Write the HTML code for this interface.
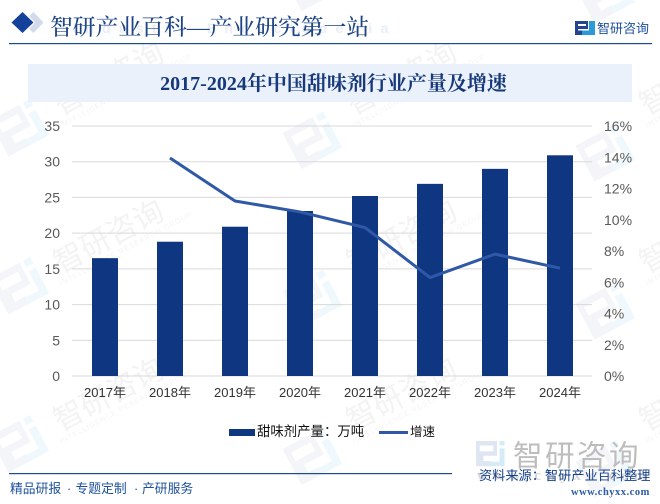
<!DOCTYPE html>
<html lang="zh">
<head>
<meta charset="utf-8">
<title>2017-2024年中国甜味剂行业产量及增速</title>
<style>
html,body{margin:0;padding:0;background:#fff;}
#page{position:relative;width:660px;height:504px;overflow:hidden;background:#fff;}
svg{position:absolute;left:0;top:0;display:block;}
text{font-family:"Liberation Sans","Noto Sans CJK SC",sans-serif;}
.serif{font-family:"Liberation Serif","Noto Serif CJK SC",serif;}
</style>
</head>
<body>
<div id="page">
<svg id="chart" width="660" height="504" viewBox="0 0 660 504" xmlns="http://www.w3.org/2000/svg">
  <defs>
    <g id="wm-logo">
      <path d="M0 0H34V20H12V27H24V34H0Z M6 6V14H28V6Z" fill="#dfe6f1" fill-rule="evenodd"/>
      <path d="M38 0H46V6H38Z" fill="#d3ecf7"/>
      <path d="M38 10H46V34H22V28H38Z" fill="#d3ecf7"/>
    </g>
  </defs>
  <g id="watermarks"></g>

  <text x="73" y="33" font-size="14" font-weight="700" fill="#e9edf5" letter-spacing="8.300">Industry Encyclopedia</text>
  <path d="M22.500 12L33.500 22.500L22.500 33L11.500 22.500Z" fill="#14429a"/>
  <path d="M33.500 12L43.500 22.500L33.500 33L29 29L35 22.500L29 16Z" fill="#d3dbeb"/>
  <text class="serif" x="50" y="35" font-size="22.800" font-weight="500" fill="#1d4485">智研产业百科—产业研究第一站</text>
  <rect x="9" y="43" width="643" height="1.200" fill="#1a4a8f"/>
  <g>
    <rect x="575" y="21" width="13" height="8" fill="#24458f"/>
    <rect x="575" y="29" width="7" height="6" fill="#24458f"/>
    <rect x="582" y="29" width="13" height="6" fill="#2a9ad8"/>
    <rect x="589" y="21" width="6" height="14" fill="#2a9ad8"/>
    <rect x="578" y="24" width="8" height="2" fill="#fff"/>
    <rect x="578" y="29" width="11" height="1.500" fill="#fff"/>
  </g>
  <text x="597" y="33" font-size="13" fill="#1d4f9c">智研咨询</text>

  <rect x="28" y="64" width="604" height="38" fill="#eaf1fb"/>
  <text class="serif" x="333.500" y="90" font-size="20" font-weight="700" fill="#17397a" text-anchor="middle">2017-2024年中国甜味剂行业产量及增速</text>

  <g id="grid"></g>
  <g id="bars"></g>
  <g id="line"></g>
  <g id="axis-left"></g>
  <g id="axis-right"></g>
  <g id="axis-x"></g>

  <g>
    <rect x="229" y="429" width="26" height="7" fill="#0f3681"/>
    <text x="257" y="436" font-size="13.400" fill="#111">甜味剂产量：万吨</text>
    <rect x="379" y="431" width="29" height="3" fill="#2f58a6"/>
    <text x="410" y="436" font-size="12.500" fill="#111">增速</text>
  </g>

  <g>
    <g transform="translate(476,441) scale(.62,.74)"><use href="#wm-logo"/></g>
    <text x="513" y="466" font-size="29.500" fill="#bdbdbd" letter-spacing="2.500">智研咨询</text>
    <text class="serif" x="477" y="480" font-size="15" font-weight="700" fill="#d6d6d6" letter-spacing="5.500">www.chyxx.com</text>
  </g>

  <rect x="9" y="473" width="443" height="1.200" fill="#1a4a8f"/>
  <text y="493" font-size="12.800" fill="#1d4f9c"><tspan x="10">精品研报</tspan><tspan x="67">·</tspan><tspan x="75.500">专题定制</tspan><tspan x="134">·</tspan><tspan x="142">产研服务</tspan></text>
  <text x="479" y="480" font-size="13.200" fill="#17408c">资料来源：智研产业百科整理</text>
  <text class="serif" x="571" y="495" font-size="10.500" font-weight="700" fill="#2a5aa5" letter-spacing=".5">www.chyxx.com</text>
</svg>
</div>
<script>
var categories = ['2017年','2018年','2019年','2020年','2021年','2022年','2023年','2024年'];
var outputValues = [16.5, 18.8, 20.9, 23.1, 25.2, 26.9, 29.0, 30.9];
var growthValues = [null, 13.95, 11.2, 10.5, 9.5, 6.3, 7.8, 6.9];
var leftTicks = [0, 5, 10, 15, 20, 25, 30, 35];
var rightTicks = [0, 2, 4, 6, 8, 10, 12, 14, 16];

var NS = 'http://www.w3.org/2000/svg';
var plotLeft = 72, plotRight = 592, plotTop = 126, plotBottom = 376;
var leftMax = 35, rightMax = 16, barWidth = 26;

function xScale(i){ return plotLeft + (plotRight - plotLeft) * (i + 0.5) / categories.length + 0.5; }
function yLeft(v){ return plotBottom - (plotBottom - plotTop) * v / leftMax; }
function yRight(v){ return plotBottom - (plotBottom - plotTop) * v / rightMax; }
function make(tag, parentId, attrs, txt){
  var el = document.createElementNS(NS, tag);
  for (var k in attrs) el.setAttribute(k, attrs[k]);
  if (txt !== undefined) el.textContent = txt;
  (typeof parentId === 'string' ? document.getElementById(parentId) : parentId).appendChild(el);
  return el;
}

leftTicks.forEach(function(t){
  var g = make('line', 'grid', {x1: plotLeft, x2: plotRight, y1: yLeft(t), y2: yLeft(t), stroke: '#d9d9d9', 'stroke-width': 1});
  
  
  var l = make('text', 'axis-left', {x: 60, y: yLeft(t) + 5, 'font-size': 14, fill: '#595959', 'text-anchor': 'end'}, String(t));
  
  
});

rightTicks.forEach(function(t){
  var l = make('text', 'axis-right', {x: 604, y: yRight(t) + 5, 'font-size': 14, fill: '#595959'}, t + '%');
  
  
});

categories.forEach(function(c, i){
  var b = make('rect', 'bars', {x: xScale(i) - barWidth / 2, y: yLeft(outputValues[i]), width: barWidth, height: yLeft(0) - yLeft(outputValues[i]), fill: '#0f3681'});
  
  
  var l = make('text', 'axis-x', {x: xScale(i), y: 397, 'font-size': 13, fill: '#333', 'text-anchor': 'middle'}, c);
  
  
});

var linePoints = [];
growthValues.forEach(function(v, i){
  if (v !== null) linePoints.push(xScale(i) + ',' + yRight(v));
});
var growthLine = make('polyline', 'line', {points: linePoints.join(' '), fill: 'none', stroke: '#2f58a6', 'stroke-width': 3, 'stroke-linejoin': 'round'});



/* repeated background watermark */
var wmLayer = document.getElementById('watermarks');
var wmColumns = [0, 1, 2];
var wmRows = [-1, 0, 1, 2];
wmColumns.forEach(function(col){
  wmRows.forEach(function(row){
    var ox = 20 + col * 293;
    var oy = 127 + row * 158;
    var logoTile = make('g', wmLayer, {transform: 'translate(' + ox + ',' + (oy + col * 12.500) + ') rotate(-28)'});
    
    
    make('use', logoTile, {href: '#wm-logo', transform: 'translate(-24,-20) scale(1,1.200)', opacity: .36});
    var g = make('g', wmLayer, {transform: 'translate(' + ox + ',' + oy + ') rotate(-28)'});
    
    
    var t1 = make('text', g, {x: 41, y: 9, 'font-size': 30, fill: '#f3f3f3'}, '智研咨询');
    
    
    var t2 = make('text', g, {x: 36, y: 20, 'font-size': 7.500, fill: '#f4f4f4', 'letter-spacing': .8}, 'INTELLIGENCE RESEARCH GROUP');
    
    
  });
});
</script>
</body>
</html>
